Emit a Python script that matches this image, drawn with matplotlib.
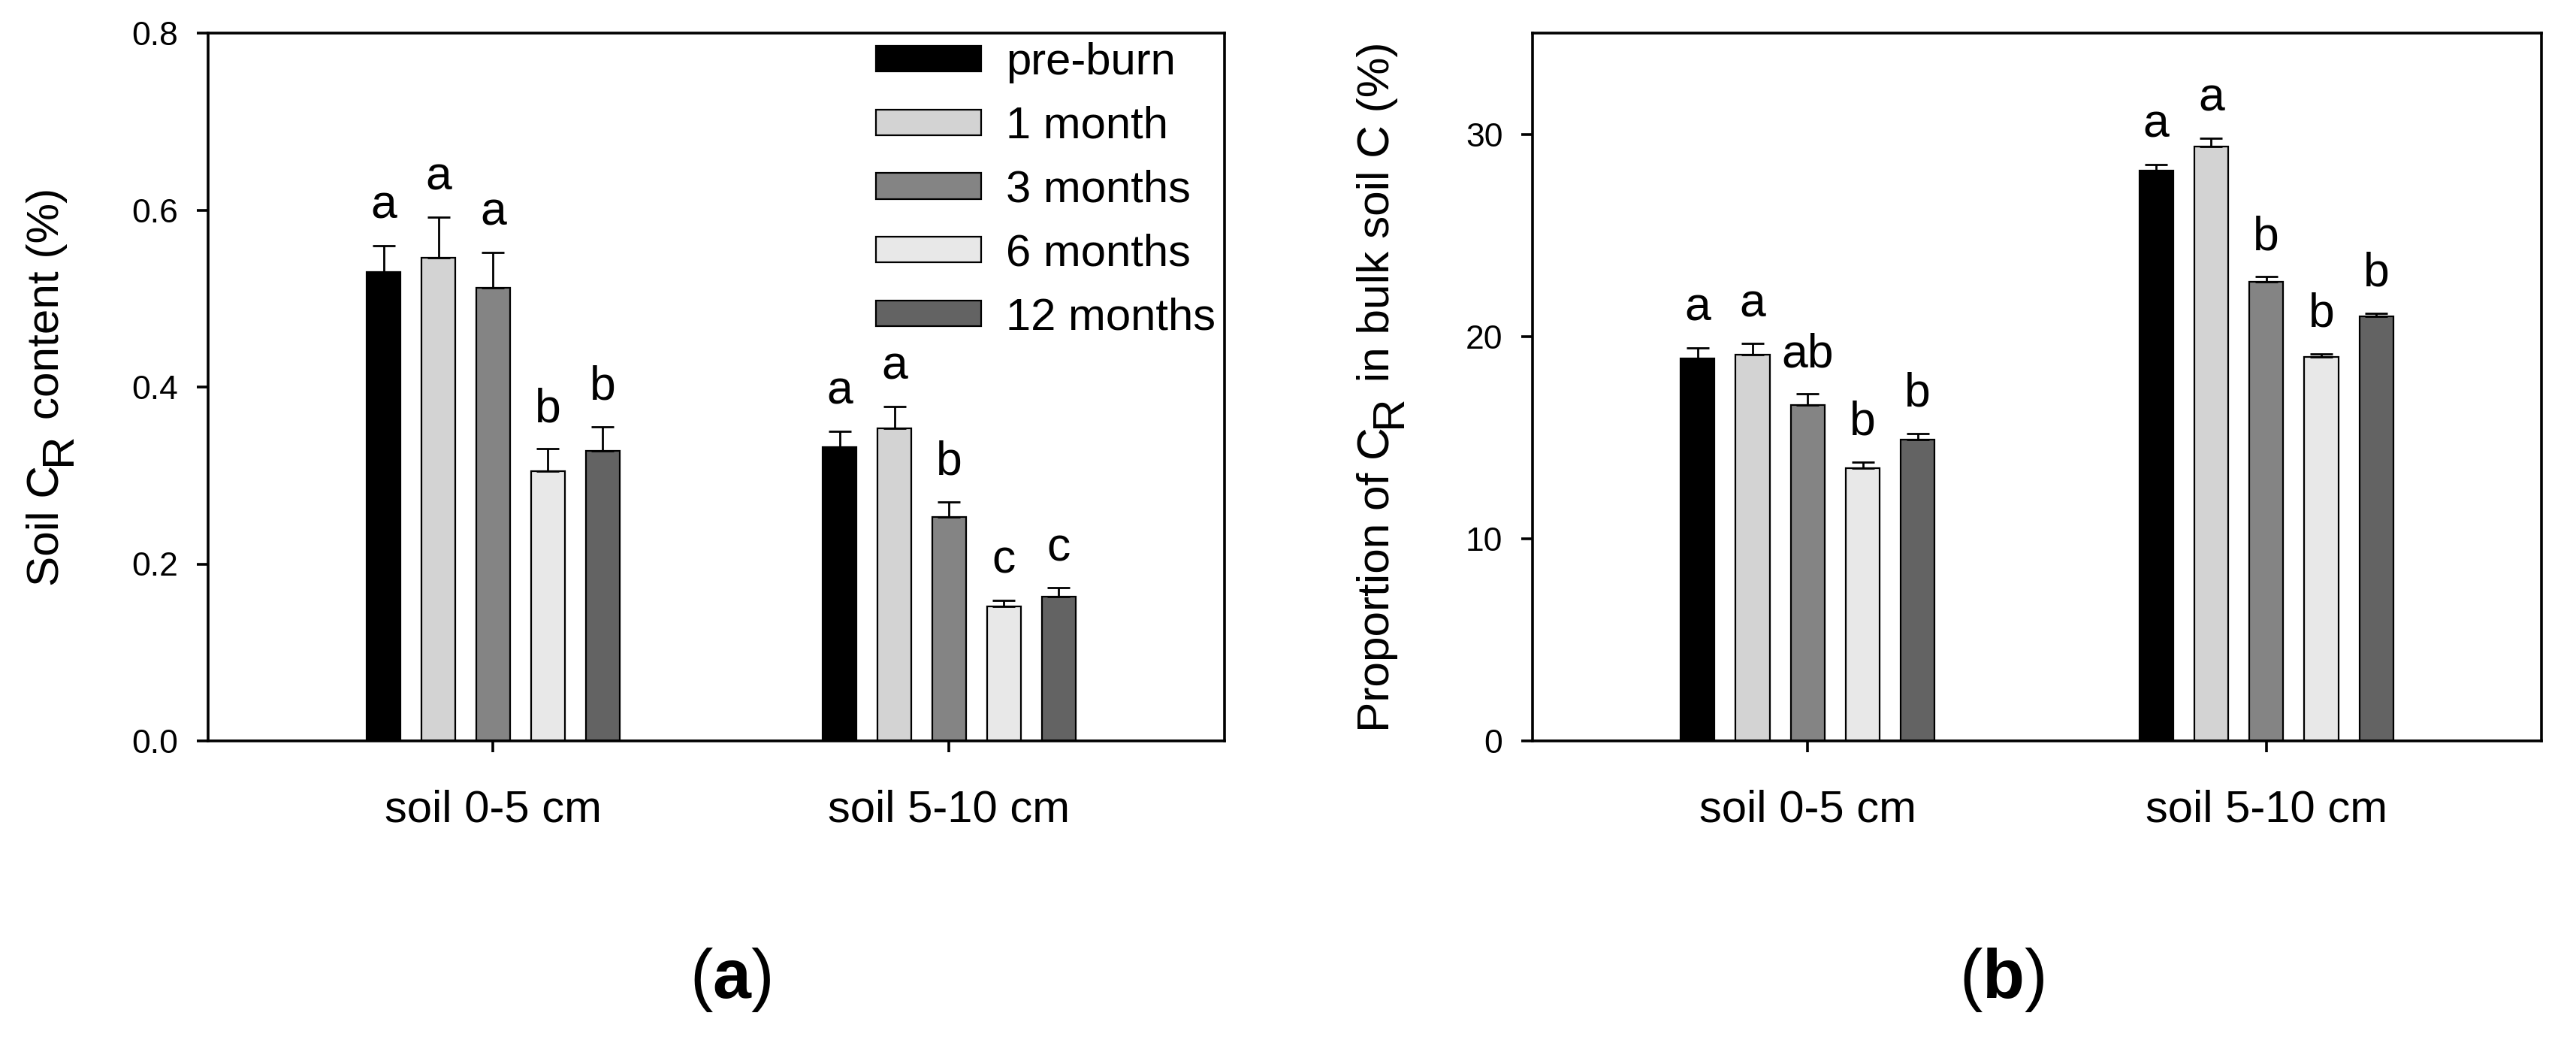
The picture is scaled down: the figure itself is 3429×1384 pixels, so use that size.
import matplotlib
matplotlib.use("Agg")
import matplotlib.pyplot as plt
import matplotlib.transforms as mtransforms
import numpy as np

plt.rcParams['font.family'] = ['Liberation Sans', 'DejaVu Sans']
plt.rcParams['mathtext.fontset'] = 'custom'
plt.rcParams['mathtext.rm'] = 'Liberation Sans'
plt.rcParams['mathtext.bf'] = 'Liberation Sans:bold'

# ---------------- data ----------------
groups = ['soil 0-5 cm', 'soil 5-10 cm']
series = ['pre-burn', '1 month', '3 months', '6 months', '12 months']
colors = ['#000000', '#d3d3d3', '#848484', '#e8e8e8', '#636363']

# panel (a): soil CR content (%)
cr_0_5 = [0.530, 0.546, 0.512, 0.305, 0.328]
cr_0_5_se = [0.030, 0.046, 0.040, 0.025, 0.027]
cr_5_10 = [0.332, 0.353, 0.253, 0.152, 0.163]
cr_5_10_se = [0.018, 0.025, 0.017, 0.007, 0.010]
cr_letters_0_5 = ['a', 'a', 'a', 'b', 'b']
cr_letters_5_10 = ['a', 'a', 'b', 'c', 'c']

# panel (b): proportion of CR in bulk soil C (%)
prop_0_5 = [18.9, 19.1, 16.6, 13.5, 14.9]
prop_0_5_se = [0.55, 0.55, 0.55, 0.30, 0.30]
prop_5_10 = [28.2, 29.4, 22.7, 19.0, 21.0]
prop_5_10_se = [0.30, 0.40, 0.25, 0.15, 0.15]
prop_letters_0_5 = ['a', 'a', 'ab', 'b', 'b']
prop_letters_5_10 = ['a', 'a', 'b', 'b', 'b']

a_yticks = [0.0, 0.2, 0.4, 0.6, 0.8]
b_yticks = [0, 10, 20, 30]

# ---------------- figure ----------------
W, H = 3430, 1384
fig = plt.figure(figsize=(W / 100, H / 100), dpi=100)

def px_axes(l, r, t, b):
    return fig.add_axes([l / W, 1 - b / H, (r - l) / W, (b - t) / H])

ax1 = px_axes(277, 1630, 44, 986)
ax2 = px_axes(2040, 3383, 44, 986)

SPINE_LW = 2.6
BAR_W = 0.074
STEP = 0.12
LET_FS = 45


def draw_panel(ax, g1, g1e, g2, g2e, l1, l2, ylim, yticks, fmt, xlim):
    xs_base = np.arange(len(groups))
    handles = []
    for i, name in enumerate(series):
        xs = xs_base + (i - 2) * STEP
        vals = [g1[i], g2[i]]
        errs = [g1e[i], g2e[i]]
        b = ax.bar(xs, vals, BAR_W, color=colors[i], edgecolor='black',
                   linewidth=1.6, zorder=2, label=name)
        handles.append(b)
        ax.errorbar(xs, vals, yerr=[[0, 0], errs], fmt='none', ecolor='black',
                    elinewidth=2.0, capsize=11, capthick=2.0, zorder=3)
        for x, v, e, lab in zip(xs, vals, errs, [l1[i], l2[i]]):
            ax.annotate(lab, xy=(x, v + e), xytext=(0, 26), textcoords='offset points',
                        ha='center', va='baseline', fontsize=LET_FS)
    ax.set_xlim(*xlim)
    ax.set_ylim(*ylim)
    ax.set_yticks(yticks)
    ax.set_yticklabels([fmt.format(t) for t in yticks])
    ax.set_xticks(xs_base)
    ax.set_xticklabels(groups)
    for sp in ax.spines.values():
        sp.set_linewidth(SPINE_LW)
    ax.tick_params(axis='y', direction='out', length=10.5, width=SPINE_LW,
                   labelsize=32, pad=18, right=False)
    ax.tick_params(axis='x', direction='out', length=10.5, width=SPINE_LW,
                   labelsize=43, pad=36, top=False)
    return handles


handles = draw_panel(ax1, cr_0_5, cr_0_5_se, cr_5_10, cr_5_10_se,
                     cr_letters_0_5, cr_letters_5_10, (0, 0.8), a_yticks, '{:.1f}',
                     (-0.625, 1.604))
draw_panel(ax2, prop_0_5, prop_0_5_se, prop_5_10, prop_5_10_se,
           prop_letters_0_5, prop_letters_5_10, (0, 35), b_yticks, '{:d}',
           (-0.60, 1.60))

ax1.legend(handles, series, loc='upper left', bbox_to_anchor=(1166 / W, 1 - 56 / H),
           bbox_transform=fig.transFigure, frameon=False, fontsize=43,
           handlelength=2.35, handleheight=0.5, handletextpad=0.55,
           labelspacing=0.5, borderpad=0, borderaxespad=0)

# ---------------- rotated y labels with level (full-size) subscript ----------------
renderer = fig.canvas.get_renderer()
ident = mtransforms.IdentityTransform()


def rot_label(x_px, yc_px, pieces, size):
    texts = []
    lens = []
    for s, shift in pieces:
        t = fig.text(0, 0, s, rotation=90, fontsize=size, ha='left', va='bottom',
                     transform=ident)
        texts.append(t)
        lens.append(t.get_window_extent(renderer).height)
    y = yc_px - sum(lens) / 2
    for t, (s, shift), L in zip(texts, pieces, lens):
        t.set_position((x_px + shift, y))
        y += L


LAB_FS = 43.5
SUB = 16
rot_label(35, H - 515, [('Soil C', 0), ('R', SUB), (' content (%)', 0)], LAB_FS)
rot_label(1806, H - 515, [('Proportion of C', 0), ('R', SUB), (' in bulk soil C (%)', 0)], LAB_FS)

# ---------------- panel labels ----------------
fig.text(972 / W, 1 - 1304 / H, r'($\mathbf{a}$)', fontsize=66, ha='center', va='center')
fig.text(2665 / W, 1 - 1304 / H, r'($\mathbf{b}$)', fontsize=66, ha='center', va='center')

fig.savefig('out.png', dpi=100)
